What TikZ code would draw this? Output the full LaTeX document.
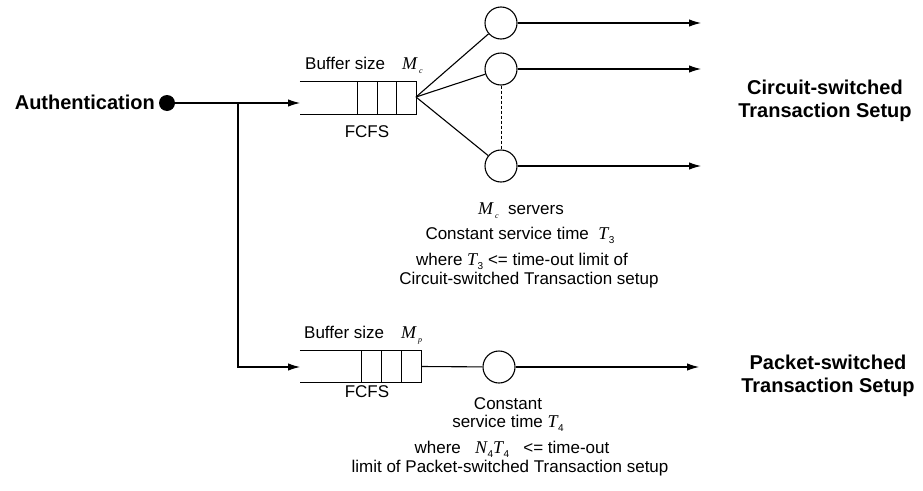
\documentclass[tikz,border=0pt]{standalone}
\usepackage{fontspec}
\setmainfont{Liberation Sans}
\newfontfamily\tms{Liberation Serif}
\usetikzlibrary{arrows.meta}

% italic variable with a small italic subscript (M_c, M_p)
\newcommand{\vsub}[2]{{\fontsize{18}{18}\selectfont\tms\itshape #1}\kern2pt\raisebox{-4pt}{\fontsize{8}{8}\selectfont\tms\itshape #2}}
% italic variable with an upright numeric subscript (T_3, T_4, N_4)
\newcommand{\vnum}[2]{{\fontsize{18}{18}\selectfont\tms\itshape #1}\kern0.5pt\raisebox{-4pt}{\fontsize{10}{10}\selectfont #2}}

\begin{document}
\begin{tikzpicture}[x=1pt,y=-1pt,
  lbl/.style={font=\fontsize{17}{20}\selectfont, inner sep=0, anchor=base},
  ttl/.style={font=\bfseries\fontsize{20}{23}\selectfont, align=center, inner sep=0},
  srv/.style={circle, draw, minimum size=32pt, inner sep=0, line width=1.1pt},
  qbox/.style={minimum height=32pt, inner sep=0},
  ln/.style={line width=1.1pt},
  flow/.style={line width=1.1pt, -{Latex[length=12pt,width=7.5pt]}},
  dotted line/.style={line width=0.8pt, dash pattern=on 3pt off 2pt}]

\useasboundingbox (0,0) rectangle (923,490);

% source
\node[font=\bfseries\fontsize{20}{23}\selectfont, inner sep=0, anchor=base east] (auth) at (155,109) {Authentication};
\node[circle, fill, inner sep=0, minimum size=16pt] (dot) at (167,103) {};

% circuit-switched queue
\node[qbox, minimum width=116pt] (qc) at (358,98) {};
\coordinate (qcin) at (300,103);
\coordinate (fan) at (416,97);
\draw[ln] (qc.north west) -- (qc.north east) -- (qc.south east) -- (qc.south west);
\foreach \d in {19.5,39,58.5}
  \draw[ln] ([xshift=-\d]qc.north east) -- ([xshift=-\d]qc.south east);
\node[lbl, anchor=base west] (bufc) at (305,69) {Buffer size\hspace{17pt}\vsub{M}{c}};
\node[lbl] (fcfsc) at (367,137) {FCFS};

% circuit-switched servers
\node[srv] (s1) at (501,23) {};
\node[srv] (s2) at (501,69) {};
\node[srv] (s3) at (501,166) {};
\coordinate (o1) at (701,23);
\coordinate (o2) at (701,69);
\coordinate (o3) at (701,166);

% packet-switched queue and server
\node[qbox, minimum width=121pt] (qp) at (360.5,366.5) {};
\coordinate (qpin) at (300,367);
\draw[ln] (qp.north west) -- (qp.north east) -- (qp.south east) -- (qp.south west);
\foreach \d in {20,40,60}
  \draw[ln] ([xshift=-\d]qp.north east) -- ([xshift=-\d]qp.south east);
\node[lbl, anchor=base west] (bufp) at (304,338) {Buffer size\hspace{17pt}\vsub{M}{p}};
\node[lbl] (fcfsp) at (367,397) {FCFS};
\node[srv] (sp) at (499,367) {};
\coordinate (op) at (699,367);

% connectors
\coordinate (br) at (238,103);
\draw[flow] (dot) -- (qcin);
\draw[flow] (br) |- (qpin);
\draw[ln] (fan) -- (s1);
\draw[ln] (fan) -- (s2);
\draw[ln] (fan) -- (s3);
\draw[dotted line] (s2) -- (s3);
\draw[flow] (s1) -- (o1);
\draw[flow] (s2) -- (o2);
\draw[flow] (s3) -- (o3);
\draw[ln] (qp.east) -- (sp);
\draw[flow] (sp) -- (op);

% destinations
\node[ttl] (dc) at (825,101) {Circuit-switched\\Transaction Setup};
\node[ttl] (dp) at (828,376) {Packet-switched\\Transaction Setup};

% server notes, circuit-switched
\node[lbl] (n1) at (521,214) {\vsub{M}{c}\ \ servers};
\node[lbl] (n2) at (520,239) {Constant service time\ \ \vnum{T}{3}};
\node[lbl] (n3) at (522,265) {where \vnum{T}{3} <= time-out limit of};
\node[lbl] (n4) at (529,284) {Circuit-switched Transaction setup};

% server notes, packet-switched
\node[lbl] (p1) at (508,409) {Constant};
\node[lbl] (p2) at (508,427) {service time \vnum{T}{4}};
\node[lbl] (p3) at (512,453) {where\ \ \ \vnum{N}{4}\vnum{T}{4}\ \ \ <= time-out};
\node[lbl] (p4) at (510,472) {limit of Packet-switched Transaction setup};
\end{tikzpicture}
\end{document}
